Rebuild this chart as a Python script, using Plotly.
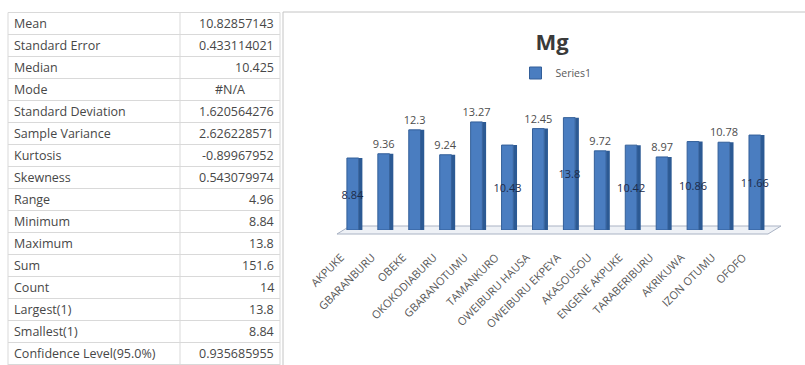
import plotly.graph_objects as go

# ---- descriptive statistics table ----
stat_names = [
    "Mean", "Standard Error", "Median", "Mode", "Standard Deviation",
    "Sample Variance", "Kurtosis", "Skewness", "Range", "Minimum",
    "Maximum", "Sum", "Count", "Largest(1)", "Smallest(1)",
    "Confidence Level(95.0%)",
]
stat_values = [
    "10.82857143", "0.433114021", "10.425", "#N/A", "1.620564276",
    "2.626228571", "-0.89967952", "0.543079974", "4.96", "8.84",
    "13.8", "151.6", "14", "13.8", "8.84", "0.935685955",
]

# ---- Mg chart data ----
sites = [
    "AKPUKE", "GBARANBURU", "OBEKE", "OKOKODIABURU", "GBARANOTUMU",
    "TAMANKURO", "OWEIBURU HAUSA", "OWEIBURU EKPEYA", "AKASOUSOU",
    "ENGENE AKPUKE", "TARABERIBURU", "AKRIKUWA", "IZON OTUMU", "OFOFO",
]
mg_values = [8.84, 9.36, 12.3, 9.24, 13.27, 10.43, 12.45, 13.8, 9.72,
             10.42, 8.97, 10.86, 10.78, 11.66]
label_pos = ["inside", "outside", "outside", "outside", "outside", "inside",
             "outside", "inside", "outside", "inside", "outside", "inside",
             "outside", "inside"]

W, H = 805, 365
FONT = "Open Sans"


def fx(px):
    return px / W


def fy(py):
    return 1 - py / H


ROW_TOP = 12.5
ROW_H = 22.0
COL_L, COL_MID, COL_R = 8, 180, 280

shapes = []
annotations = []

# grid lines of the worksheet
for k in range(len(stat_names) + 1):
    y = ROW_TOP + ROW_H * k
    shapes.append(dict(type="line", xref="paper", yref="paper",
                       x0=fx(COL_L), x1=fx(COL_R), y0=fy(y), y1=fy(y),
                       line=dict(color="#d9d9d9", width=1)))
for xv in (COL_L, COL_MID, COL_R):
    shapes.append(dict(type="line", xref="paper", yref="paper",
                       x0=fx(xv), x1=fx(xv), y0=fy(ROW_TOP), y1=-0.02,
                       line=dict(color="#d9d9d9", width=1)))

# cell texts
for i, (name, val) in enumerate(zip(stat_names, stat_values)):
    yc = ROW_TOP + ROW_H * (i + 0.5)
    annotations.append(dict(text=name, xref="paper", yref="paper",
                            x=fx(12), y=fy(yc), xanchor="left", yanchor="middle",
                            showarrow=False,
                            font=dict(family=FONT, size=12.5, color="#474747")))
    centered = val.startswith("#")
    annotations.append(dict(text=val, xref="paper", yref="paper",
                            x=fx((COL_MID + COL_R) / 2) if centered else fx(276),
                            y=fy(yc),
                            xanchor="center" if centered else "right",
                            yanchor="middle", showarrow=False,
                            font=dict(family=FONT, size=12.5, color="#474747")))

# chart frame
shapes.append(dict(type="rect", xref="paper", yref="paper",
                   x0=fx(283), x1=1.02, y0=-0.02, y1=fy(12),
                   line=dict(color="#c4c4c4", width=1), fillcolor="white",
                   layer="below"))

# floor of the 3D column chart
floor = "M {:.4f},{:.4f} L {:.4f},{:.4f} L {:.4f},{:.4f} L {:.4f},{:.4f} Z".format(
    fx(337), fy(234), fx(768), fy(234), fx(781), fy(226), fx(350), fy(226))
shapes.append(dict(type="path", xref="paper", yref="paper", path=floor,
                   fillcolor="#eef1f6", line=dict(color="#aab3c4", width=1),
                   layer="below"))

positions = list(range(len(sites)))

fig = go.Figure()

# darker side face of each column
fig.add_trace(go.Bar(
    x=positions, y=mg_values, width=0.12, offset=0.12,
    marker=dict(color="#2c5a94", line=dict(width=0)),
    showlegend=False, hoverinfo="skip",
))

# front face with value labels
fig.add_trace(go.Bar(
    x=positions, y=mg_values, width=0.38, offset=-0.26,
    name="Series1",
    marker=dict(color="#4a7dc0", line=dict(color="#335f99", width=1)),
    text=[str(v) for v in mg_values],
    textposition=label_pos,
    textangle=0,
    insidetextanchor="middle",
    constraintext="none",
    cliponaxis=False,
    insidetextfont=dict(family=FONT, size=11, color="#1c2b4a"),
    outsidetextfont=dict(family=FONT, size=11, color="#4d4d4d"),
    hovertext=sites,
))

fig.update_layout(
    width=W, height=H,
    margin=dict(l=0, r=0, t=0, b=0, autoexpand=False),
    paper_bgcolor="white", plot_bgcolor="rgba(0,0,0,0)",
    barmode="overlay",
    showlegend=True,
    title=dict(text="Mg", x=fx(552), xanchor="center",
               y=fy(42), yanchor="middle", automargin=False,
               font=dict(family=FONT, size=22, color="#3a3a3a", weight="bold")),
    legend=dict(orientation="h", x=fx(556), xanchor="center",
                y=fy(73), yanchor="middle",
                font=dict(family=FONT, size=10.5, color="#595959"),
                itemwidth=30, bgcolor="rgba(0,0,0,0)"),
    xaxis=dict(domain=[fx(339.5), fx(772.5)], range=[-0.5, 13.5],
               automargin=False,
               tickmode="array",
               tickvals=[p - 0.45 for p in positions], ticktext=sites,
               showgrid=False, zeroline=False, showline=False,
               tickangle=-45, ticks="", ticklabelstandoff=18,
               tickfont=dict(family=FONT, size=11, color="#595959")),
    yaxis=dict(domain=[fy(230), fy(116)], range=[0, 14], visible=False,
               automargin=False),
    shapes=shapes,
    annotations=annotations,
)

fig.write_html("out.html")
